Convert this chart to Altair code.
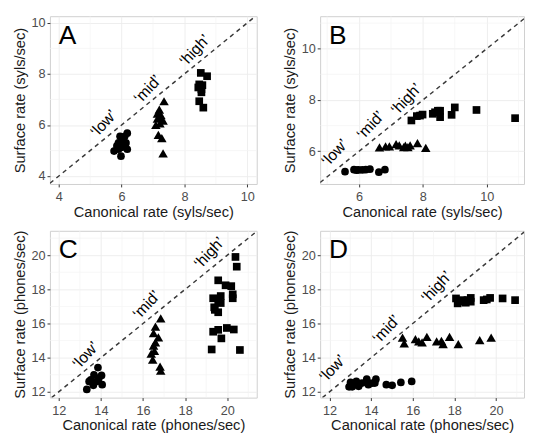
import altair as alt
import pandas as pd

CATS = ["low", "mid", "high"]
CAT_TEXT = ["\u2018low\u2019", "\u2018mid\u2019", "\u2018high\u2019"]

# ---------- Panel A ----------
a_low_x = [6.18, 5.95, 6.05, 5.90, 6.14, 5.76, 5.99, 6.18, 5.98, 5.85, 6.10, 5.90, 6.05]
a_low_y = [5.68, 5.56, 5.42, 5.30, 5.30, 4.98, 5.12, 5.05, 4.78, 5.18, 5.56, 5.05, 5.20]
a_mid_x = [7.35, 7.20, 7.25, 7.14, 7.32, 7.09, 7.22, 7.17, 7.28, 7.32, 7.14, 7.20]
a_mid_y = [6.93, 6.60, 6.39, 6.25, 6.17, 6.00, 6.06, 5.61, 5.49, 4.89, 6.45, 6.30]
a_high_x = [8.52, 8.72, 8.47, 8.57, 8.54, 8.54, 8.47, 8.60, 8.44]
a_high_y = [8.04, 7.91, 7.59, 7.56, 7.40, 7.28, 6.93, 6.68, 7.47]
a_lab_x = [5.43, 6.83, 8.33]
a_lab_y = [6.06, 7.40, 8.92]

# ---------- Panel B ----------
b_low_x = [5.56, 5.84, 5.98, 6.10, 6.21, 6.34, 6.62, 6.81, 5.92]
b_low_y = [5.20, 5.28, 5.27, 5.27, 5.28, 5.30, 5.18, 5.28, 5.26]
b_mid_x = [6.64, 6.83, 6.95, 7.16, 7.26, 7.40, 7.53, 7.60, 7.83, 8.09, 7.45]
b_mid_y = [6.15, 6.19, 6.19, 6.28, 6.23, 6.16, 6.16, 6.23, 6.32, 6.13, 6.22]
b_high_x = [7.64, 7.81, 7.99, 8.31, 8.47, 8.54, 8.54, 8.90, 9.00, 9.68, 10.89, 7.91, 8.38]
b_high_y = [7.20, 7.37, 7.43, 7.46, 7.58, 7.58, 7.33, 7.42, 7.71, 7.61, 7.29, 7.39, 7.52]
b_lab_x = [5.24, 6.36, 7.48]
b_lab_y = [5.94, 7.01, 8.03]

# ---------- Panel C ----------
c_low_x = [13.86, 13.67, 14.03, 13.44, 13.80, 14.06, 13.64, 13.33, 13.52, 13.90]
c_low_y = [13.42, 13.00, 12.96, 12.61, 12.61, 12.42, 12.38, 12.14, 12.70, 12.80]
c_mid_x = [16.84, 16.59, 16.50, 16.73, 16.59, 16.50, 16.39, 16.46, 16.81, 16.84, 16.54]
c_mid_y = [16.30, 15.82, 15.44, 15.19, 14.90, 14.71, 14.24, 13.89, 13.47, 13.24, 14.40]
c_high_x = [20.39, 20.45, 19.57, 19.92, 20.19, 20.26, 20.26, 19.33, 19.69, 19.57, 19.38,
            19.57, 19.69, 19.33, 19.57, 19.98, 20.31, 19.72, 19.26, 20.60, 19.41]
c_high_y = [19.90, 19.33, 18.53, 18.24, 18.19, 17.71, 17.48, 17.48, 17.61, 17.35, 16.95,
            16.66, 17.20, 15.52, 15.63, 15.74, 15.65, 15.13, 14.48, 14.45, 16.80]
c_lab_x = [13.28, 16.17, 19.15]
c_lab_y = [14.14, 17.09, 20.14]

# ---------- Panel D ----------
d_low_x = [12.94, 13.01, 13.17, 13.29, 13.40, 13.56, 13.79, 13.87, 14.07, 14.23, 14.18,
           14.73, 15.01, 15.43, 15.95, 13.09, 13.79]
d_low_y = [12.29, 12.55, 12.48, 12.61, 12.32, 12.51, 12.61, 12.42, 12.51, 12.74, 12.51,
           12.42, 12.38, 12.55, 12.61, 12.29, 12.74]
d_mid_x = [15.51, 15.59, 16.13, 16.29, 16.68, 16.45, 17.15, 17.38, 17.46, 17.77, 18.19, 19.22, 19.77]
d_mid_y = [15.18, 14.84, 15.09, 14.95, 15.22, 14.90, 14.95, 14.99, 14.80, 15.22, 14.80, 15.03, 15.18]
d_high_x = [18.08, 18.24, 18.40, 18.63, 18.79, 18.79, 18.16, 19.41, 19.56, 19.72, 20.32, 20.92, 18.55]
d_high_y = [17.47, 17.28, 17.37, 17.37, 17.28, 17.50, 17.18, 17.37, 17.41, 17.50, 17.47, 17.37, 17.22]
d_lab_x = [12.15, 14.73, 17.15]
d_lab_y = [13.37, 15.66, 18.14]

# axis ticks and minor grid positions
syl_ticks_a = [4, 6, 8, 10]
syl_minor_a = [3, 5, 7, 9, 11]
syl_ticks_b = [6, 8, 10]
syl_minor_b = [5, 7, 9, 11]
ph_ticks = [12, 14, 16, 18, 20]
ph_minor = [11, 13, 15, 17, 19, 21]

FONT = "Liberation Sans"
SHAPES = {"low": ("circle", 62), "mid": ("triangle-up", 95), "high": ("square", 62)}


def make_panel(series, labs, xdom, ydom, xticks, yticks, xminor, yminor,
               xtitle, ytitle, letter, w, h):
    xs_ = alt.Scale(domain=xdom, nice=False, zero=False)
    ys_ = alt.Scale(domain=ydom, nice=False, zero=False)
    xax = alt.Axis(values=xticks, title=xtitle, grid=True)
    yax = alt.Axis(values=yticks, title=ytitle, grid=True)

    X = alt.X("x:Q", scale=xs_, axis=xax)
    Y = alt.Y("y:Q", scale=ys_, axis=yax)

    minor_x = alt.Chart(pd.DataFrame({"x": xminor})).mark_rule(
        color="#F3F3F3", strokeWidth=0.7, clip=True).encode(x=X)
    minor_y = alt.Chart(pd.DataFrame({"y": yminor})).mark_rule(
        color="#F3F3F3", strokeWidth=0.7, clip=True).encode(y=Y)

    lo = max(xdom[0], ydom[0])
    hi = min(xdom[1], ydom[1])
    diag = alt.Chart(pd.DataFrame({"x": [lo], "y": [lo], "x2": [hi], "y2": [hi]})).mark_rule(
        color="#3a3a3a", strokeWidth=1.5, strokeDash=[4.5, 4], clip=True
    ).encode(x=X, y=Y, x2="x2:Q", y2="y2:Q")

    point_layers = []
    for cat, (xs, ys) in zip(CATS, series):
        shp, sz = SHAPES[cat]
        point_layers.append(
            alt.Chart(pd.DataFrame({"x": xs, "y": ys})).mark_point(
                filled=True, opacity=1, color="black", shape=shp, size=sz
            ).encode(x=X, y=Y)
        )

    labdf = pd.DataFrame({"x": labs[0], "y": labs[1], "t": CAT_TEXT})
    labels = alt.Chart(labdf).mark_text(
        angle=313, fontSize=16, font=FONT, color="black", align="center", baseline="middle"
    ).encode(x=X, y=Y, text="t:N")

    letdf = pd.DataFrame({"t": [letter]})
    let = alt.Chart(letdf).mark_text(
        fontSize=27, font=FONT, color="black", align="left", baseline="alphabetic"
    ).encode(x=alt.value(9), y=alt.value(28), text="t:N")

    return alt.layer(minor_x, minor_y, diag, *point_layers, labels, let).properties(width=w, height=h)


pA = make_panel([(a_low_x, a_low_y), (a_mid_x, a_mid_y), (a_high_x, a_high_y)],
                (a_lab_x, a_lab_y), [3.72, 10.3], [3.69, 10.26], syl_ticks_a, syl_ticks_a,
                syl_minor_a, syl_minor_a,
                "Canonical rate (syls/sec)", "Surface rate (syls/sec)", "A", 212, 172)
pB = make_panel([(b_low_x, b_low_y), (b_mid_x, b_mid_y), (b_high_x, b_high_y)],
                (b_lab_x, b_lab_y), [4.78, 11.17], [4.72, 11.27], syl_ticks_b, syl_ticks_b,
                syl_minor_b, syl_minor_b,
                "Canonical rate (syls/sec)", "Surface rate (syls/sec)", "B", 209, 172)
pC = make_panel([(c_low_x, c_low_y), (c_mid_x, c_mid_y), (c_high_x, c_high_y)],
                (c_lab_x, c_lab_y), [11.58, 21.4], [11.66, 21.43], ph_ticks, ph_ticks,
                ph_minor, ph_minor,
                "Canonical rate (phones/sec)", "Surface rate (phones/sec)", "C", 212, 171)
pD = make_panel([(d_low_x, d_low_y), (d_mid_x, d_mid_y), (d_high_x, d_high_y)],
                (d_lab_x, d_lab_y), [11.55, 21.35], [11.66, 21.43], ph_ticks, ph_ticks,
                ph_minor, ph_minor,
                "Canonical rate (phones/sec)", "Surface rate (phones/sec)", "D", 209, 171)

chart = alt.vconcat(
    alt.hconcat(pA, pB, spacing=25),
    alt.hconcat(pC, pD, spacing=25),
    spacing=9,
).properties(
    padding={"left": 4, "top": 2, "right": 0, "bottom": 0}
).configure_view(
    stroke="#CFCFCF", strokeWidth=1
).configure_axis(
    domain=False,
    gridColor="#EBEBEB", gridWidth=0.9,
    tickColor="#333333", tickSize=3, tickWidth=1,
    labelFont=FONT, labelFontSize=13, labelColor="#4D4D4D", labelPadding=2,
    titleFont=FONT, titleFontSize=15, titleFontWeight="normal", titleColor="#1a1a1a",
    titlePadding=4,
).configure_axisX(titlePadding=1, labelPadding=4)

chart.save("out.html", embed_options={"renderer": "svg", "actions": False})
